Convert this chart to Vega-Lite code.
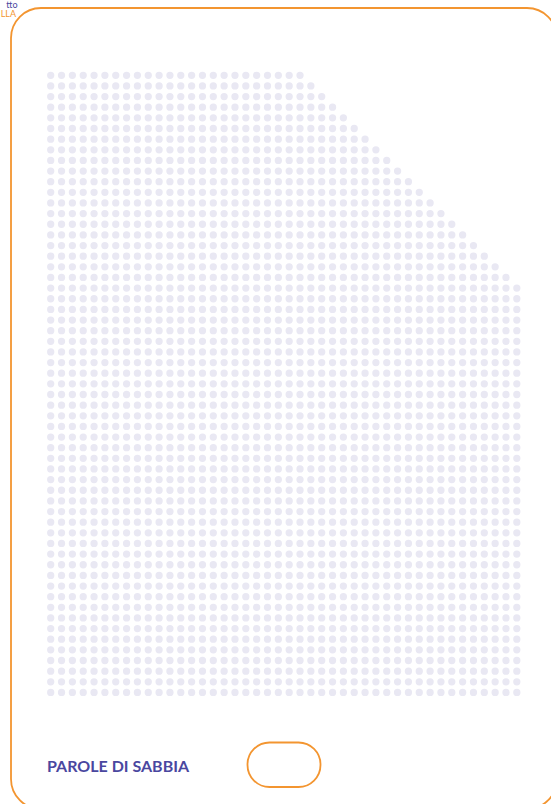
{
"$schema": "https://vega.github.io/schema/vega-lite/v6.json",
"width": 551, "height": 804, "autosize": "none", "padding": 0, "background": "white",
"config": {"view": {"stroke": null}},
"datasets": {
"card": [{"x1": -3.662, "x2": 46.706, "y1": -6.325, "y2": 68.957}],
"pill": [{"x1": 18.155, "x2": 24.889, "y1": 62.707, "y2": 66.889}],
"title": [{"x": -0.341, "y": 65.45, "label": "PAROLE DI SABBIA"}],
"corner1": [{"x": -3.063, "y": -6.32, "label": "tto"}],
"corner2": [{"x": -3.201, "y": -5.5, "label": "LLA"}],
"dots": [
{"c":0,"r":0},{"c":1,"r":0},{"c":2,"r":0},{"c":3,"r":0},{"c":4,"r":0},{"c":5,"r":0},{"c":6,"r":0},{"c":7,"r":0},{"c":8,"r":0},{"c":9,"r":0},{"c":10,"r":0},{"c":11,"r":0},{"c":12,"r":0},{"c":13,"r":0},{"c":14,"r":0},{"c":15,"r":0},{"c":16,"r":0},{"c":17,"r":0},{"c":18,"r":0},{"c":19,"r":0},{"c":20,"r":0},{"c":21,"r":0},{"c":22,"r":0},{"c":23,"r":0},
{"c":0,"r":1},{"c":1,"r":1},{"c":2,"r":1},{"c":3,"r":1},{"c":4,"r":1},{"c":5,"r":1},{"c":6,"r":1},{"c":7,"r":1},{"c":8,"r":1},{"c":9,"r":1},{"c":10,"r":1},{"c":11,"r":1},{"c":12,"r":1},{"c":13,"r":1},{"c":14,"r":1},{"c":15,"r":1},{"c":16,"r":1},{"c":17,"r":1},{"c":18,"r":1},{"c":19,"r":1},{"c":20,"r":1},{"c":21,"r":1},{"c":22,"r":1},{"c":23,"r":1},{"c":24,"r":1},
{"c":0,"r":2},{"c":1,"r":2},{"c":2,"r":2},{"c":3,"r":2},{"c":4,"r":2},{"c":5,"r":2},{"c":6,"r":2},{"c":7,"r":2},{"c":8,"r":2},{"c":9,"r":2},{"c":10,"r":2},{"c":11,"r":2},{"c":12,"r":2},{"c":13,"r":2},{"c":14,"r":2},{"c":15,"r":2},{"c":16,"r":2},{"c":17,"r":2},{"c":18,"r":2},{"c":19,"r":2},{"c":20,"r":2},{"c":21,"r":2},{"c":22,"r":2},{"c":23,"r":2},{"c":24,"r":2},{"c":25,"r":2},
{"c":0,"r":3},{"c":1,"r":3},{"c":2,"r":3},{"c":3,"r":3},{"c":4,"r":3},{"c":5,"r":3},{"c":6,"r":3},{"c":7,"r":3},{"c":8,"r":3},{"c":9,"r":3},{"c":10,"r":3},{"c":11,"r":3},{"c":12,"r":3},{"c":13,"r":3},{"c":14,"r":3},{"c":15,"r":3},{"c":16,"r":3},{"c":17,"r":3},{"c":18,"r":3},{"c":19,"r":3},{"c":20,"r":3},{"c":21,"r":3},{"c":22,"r":3},{"c":23,"r":3},{"c":24,"r":3},{"c":25,"r":3},{"c":26,"r":3},
{"c":0,"r":4},{"c":1,"r":4},{"c":2,"r":4},{"c":3,"r":4},{"c":4,"r":4},{"c":5,"r":4},{"c":6,"r":4},{"c":7,"r":4},{"c":8,"r":4},{"c":9,"r":4},{"c":10,"r":4},{"c":11,"r":4},{"c":12,"r":4},{"c":13,"r":4},{"c":14,"r":4},{"c":15,"r":4},{"c":16,"r":4},{"c":17,"r":4},{"c":18,"r":4},{"c":19,"r":4},{"c":20,"r":4},{"c":21,"r":4},{"c":22,"r":4},{"c":23,"r":4},{"c":24,"r":4},{"c":25,"r":4},{"c":26,"r":4},{"c":27,"r":4},
{"c":0,"r":5},{"c":1,"r":5},{"c":2,"r":5},{"c":3,"r":5},{"c":4,"r":5},{"c":5,"r":5},{"c":6,"r":5},{"c":7,"r":5},{"c":8,"r":5},{"c":9,"r":5},{"c":10,"r":5},{"c":11,"r":5},{"c":12,"r":5},{"c":13,"r":5},{"c":14,"r":5},{"c":15,"r":5},{"c":16,"r":5},{"c":17,"r":5},{"c":18,"r":5},{"c":19,"r":5},{"c":20,"r":5},{"c":21,"r":5},{"c":22,"r":5},{"c":23,"r":5},{"c":24,"r":5},{"c":25,"r":5},{"c":26,"r":5},{"c":27,"r":5},{"c":28,"r":5},
{"c":0,"r":6},{"c":1,"r":6},{"c":2,"r":6},{"c":3,"r":6},{"c":4,"r":6},{"c":5,"r":6},{"c":6,"r":6},{"c":7,"r":6},{"c":8,"r":6},{"c":9,"r":6},{"c":10,"r":6},{"c":11,"r":6},{"c":12,"r":6},{"c":13,"r":6},{"c":14,"r":6},{"c":15,"r":6},{"c":16,"r":6},{"c":17,"r":6},{"c":18,"r":6},{"c":19,"r":6},{"c":20,"r":6},{"c":21,"r":6},{"c":22,"r":6},{"c":23,"r":6},{"c":24,"r":6},{"c":25,"r":6},{"c":26,"r":6},{"c":27,"r":6},{"c":28,"r":6},{"c":29,"r":6},
{"c":0,"r":7},{"c":1,"r":7},{"c":2,"r":7},{"c":3,"r":7},{"c":4,"r":7},{"c":5,"r":7},{"c":6,"r":7},{"c":7,"r":7},{"c":8,"r":7},{"c":9,"r":7},{"c":10,"r":7},{"c":11,"r":7},{"c":12,"r":7},{"c":13,"r":7},{"c":14,"r":7},{"c":15,"r":7},{"c":16,"r":7},{"c":17,"r":7},{"c":18,"r":7},{"c":19,"r":7},{"c":20,"r":7},{"c":21,"r":7},{"c":22,"r":7},{"c":23,"r":7},{"c":24,"r":7},{"c":25,"r":7},{"c":26,"r":7},{"c":27,"r":7},{"c":28,"r":7},{"c":29,"r":7},{"c":30,"r":7},
{"c":0,"r":8},{"c":1,"r":8},{"c":2,"r":8},{"c":3,"r":8},{"c":4,"r":8},{"c":5,"r":8},{"c":6,"r":8},{"c":7,"r":8},{"c":8,"r":8},{"c":9,"r":8},{"c":10,"r":8},{"c":11,"r":8},{"c":12,"r":8},{"c":13,"r":8},{"c":14,"r":8},{"c":15,"r":8},{"c":16,"r":8},{"c":17,"r":8},{"c":18,"r":8},{"c":19,"r":8},{"c":20,"r":8},{"c":21,"r":8},{"c":22,"r":8},{"c":23,"r":8},{"c":24,"r":8},{"c":25,"r":8},{"c":26,"r":8},{"c":27,"r":8},{"c":28,"r":8},{"c":29,"r":8},{"c":30,"r":8},{"c":31,"r":8},
{"c":0,"r":9},{"c":1,"r":9},{"c":2,"r":9},{"c":3,"r":9},{"c":4,"r":9},{"c":5,"r":9},{"c":6,"r":9},{"c":7,"r":9},{"c":8,"r":9},{"c":9,"r":9},{"c":10,"r":9},{"c":11,"r":9},{"c":12,"r":9},{"c":13,"r":9},{"c":14,"r":9},{"c":15,"r":9},{"c":16,"r":9},{"c":17,"r":9},{"c":18,"r":9},{"c":19,"r":9},{"c":20,"r":9},{"c":21,"r":9},{"c":22,"r":9},{"c":23,"r":9},{"c":24,"r":9},{"c":25,"r":9},{"c":26,"r":9},{"c":27,"r":9},{"c":28,"r":9},{"c":29,"r":9},{"c":30,"r":9},{"c":31,"r":9},{"c":32,"r":9},
{"c":0,"r":10},{"c":1,"r":10},{"c":2,"r":10},{"c":3,"r":10},{"c":4,"r":10},{"c":5,"r":10},{"c":6,"r":10},{"c":7,"r":10},{"c":8,"r":10},{"c":9,"r":10},{"c":10,"r":10},{"c":11,"r":10},{"c":12,"r":10},{"c":13,"r":10},{"c":14,"r":10},{"c":15,"r":10},{"c":16,"r":10},{"c":17,"r":10},{"c":18,"r":10},{"c":19,"r":10},{"c":20,"r":10},{"c":21,"r":10},{"c":22,"r":10},{"c":23,"r":10},{"c":24,"r":10},{"c":25,"r":10},{"c":26,"r":10},{"c":27,"r":10},{"c":28,"r":10},{"c":29,"r":10},{"c":30,"r":10},{"c":31,"r":10},{"c":32,"r":10},{"c":33,"r":10},
{"c":0,"r":11},{"c":1,"r":11},{"c":2,"r":11},{"c":3,"r":11},{"c":4,"r":11},{"c":5,"r":11},{"c":6,"r":11},{"c":7,"r":11},{"c":8,"r":11},{"c":9,"r":11},{"c":10,"r":11},{"c":11,"r":11},{"c":12,"r":11},{"c":13,"r":11},{"c":14,"r":11},{"c":15,"r":11},{"c":16,"r":11},{"c":17,"r":11},{"c":18,"r":11},{"c":19,"r":11},{"c":20,"r":11},{"c":21,"r":11},{"c":22,"r":11},{"c":23,"r":11},{"c":24,"r":11},{"c":25,"r":11},{"c":26,"r":11},{"c":27,"r":11},{"c":28,"r":11},{"c":29,"r":11},{"c":30,"r":11},{"c":31,"r":11},{"c":32,"r":11},{"c":33,"r":11},{"c":34,"r":11},
{"c":0,"r":12},{"c":1,"r":12},{"c":2,"r":12},{"c":3,"r":12},{"c":4,"r":12},{"c":5,"r":12},{"c":6,"r":12},{"c":7,"r":12},{"c":8,"r":12},{"c":9,"r":12},{"c":10,"r":12},{"c":11,"r":12},{"c":12,"r":12},{"c":13,"r":12},{"c":14,"r":12},{"c":15,"r":12},{"c":16,"r":12},{"c":17,"r":12},{"c":18,"r":12},{"c":19,"r":12},{"c":20,"r":12},{"c":21,"r":12},{"c":22,"r":12},{"c":23,"r":12},{"c":24,"r":12},{"c":25,"r":12},{"c":26,"r":12},{"c":27,"r":12},{"c":28,"r":12},{"c":29,"r":12},{"c":30,"r":12},{"c":31,"r":12},{"c":32,"r":12},{"c":33,"r":12},{"c":34,"r":12},{"c":35,"r":12},
{"c":0,"r":13},{"c":1,"r":13},{"c":2,"r":13},{"c":3,"r":13},{"c":4,"r":13},{"c":5,"r":13},{"c":6,"r":13},{"c":7,"r":13},{"c":8,"r":13},{"c":9,"r":13},{"c":10,"r":13},{"c":11,"r":13},{"c":12,"r":13},{"c":13,"r":13},{"c":14,"r":13},{"c":15,"r":13},{"c":16,"r":13},{"c":17,"r":13},{"c":18,"r":13},{"c":19,"r":13},{"c":20,"r":13},{"c":21,"r":13},{"c":22,"r":13},{"c":23,"r":13},{"c":24,"r":13},{"c":25,"r":13},{"c":26,"r":13},{"c":27,"r":13},{"c":28,"r":13},{"c":29,"r":13},{"c":30,"r":13},{"c":31,"r":13},{"c":32,"r":13},{"c":33,"r":13},{"c":34,"r":13},{"c":35,"r":13},{"c":36,"r":13},
{"c":0,"r":14},{"c":1,"r":14},{"c":2,"r":14},{"c":3,"r":14},{"c":4,"r":14},{"c":5,"r":14},{"c":6,"r":14},{"c":7,"r":14},{"c":8,"r":14},{"c":9,"r":14},{"c":10,"r":14},{"c":11,"r":14},{"c":12,"r":14},{"c":13,"r":14},{"c":14,"r":14},{"c":15,"r":14},{"c":16,"r":14},{"c":17,"r":14},{"c":18,"r":14},{"c":19,"r":14},{"c":20,"r":14},{"c":21,"r":14},{"c":22,"r":14},{"c":23,"r":14},{"c":24,"r":14},{"c":25,"r":14},{"c":26,"r":14},{"c":27,"r":14},{"c":28,"r":14},{"c":29,"r":14},{"c":30,"r":14},{"c":31,"r":14},{"c":32,"r":14},{"c":33,"r":14},{"c":34,"r":14},{"c":35,"r":14},{"c":36,"r":14},{"c":37,"r":14},
{"c":0,"r":15},{"c":1,"r":15},{"c":2,"r":15},{"c":3,"r":15},{"c":4,"r":15},{"c":5,"r":15},{"c":6,"r":15},{"c":7,"r":15},{"c":8,"r":15},{"c":9,"r":15},{"c":10,"r":15},{"c":11,"r":15},{"c":12,"r":15},{"c":13,"r":15},{"c":14,"r":15},{"c":15,"r":15},{"c":16,"r":15},{"c":17,"r":15},{"c":18,"r":15},{"c":19,"r":15},{"c":20,"r":15},{"c":21,"r":15},{"c":22,"r":15},{"c":23,"r":15},{"c":24,"r":15},{"c":25,"r":15},{"c":26,"r":15},{"c":27,"r":15},{"c":28,"r":15},{"c":29,"r":15},{"c":30,"r":15},{"c":31,"r":15},{"c":32,"r":15},{"c":33,"r":15},{"c":34,"r":15},{"c":35,"r":15},{"c":36,"r":15},{"c":37,"r":15},{"c":38,"r":15},
{"c":0,"r":16},{"c":1,"r":16},{"c":2,"r":16},{"c":3,"r":16},{"c":4,"r":16},{"c":5,"r":16},{"c":6,"r":16},{"c":7,"r":16},{"c":8,"r":16},{"c":9,"r":16},{"c":10,"r":16},{"c":11,"r":16},{"c":12,"r":16},{"c":13,"r":16},{"c":14,"r":16},{"c":15,"r":16},{"c":16,"r":16},{"c":17,"r":16},{"c":18,"r":16},{"c":19,"r":16},{"c":20,"r":16},{"c":21,"r":16},{"c":22,"r":16},{"c":23,"r":16},{"c":24,"r":16},{"c":25,"r":16},{"c":26,"r":16},{"c":27,"r":16},{"c":28,"r":16},{"c":29,"r":16},{"c":30,"r":16},{"c":31,"r":16},{"c":32,"r":16},{"c":33,"r":16},{"c":34,"r":16},{"c":35,"r":16},{"c":36,"r":16},{"c":37,"r":16},{"c":38,"r":16},{"c":39,"r":16},
{"c":0,"r":17},{"c":1,"r":17},{"c":2,"r":17},{"c":3,"r":17},{"c":4,"r":17},{"c":5,"r":17},{"c":6,"r":17},{"c":7,"r":17},{"c":8,"r":17},{"c":9,"r":17},{"c":10,"r":17},{"c":11,"r":17},{"c":12,"r":17},{"c":13,"r":17},{"c":14,"r":17},{"c":15,"r":17},{"c":16,"r":17},{"c":17,"r":17},{"c":18,"r":17},{"c":19,"r":17},{"c":20,"r":17},{"c":21,"r":17},{"c":22,"r":17},{"c":23,"r":17},{"c":24,"r":17},{"c":25,"r":17},{"c":26,"r":17},{"c":27,"r":17},{"c":28,"r":17},{"c":29,"r":17},{"c":30,"r":17},{"c":31,"r":17},{"c":32,"r":17},{"c":33,"r":17},{"c":34,"r":17},{"c":35,"r":17},{"c":36,"r":17},{"c":37,"r":17},{"c":38,"r":17},{"c":39,"r":17},{"c":40,"r":17},
{"c":0,"r":18},{"c":1,"r":18},{"c":2,"r":18},{"c":3,"r":18},{"c":4,"r":18},{"c":5,"r":18},{"c":6,"r":18},{"c":7,"r":18},{"c":8,"r":18},{"c":9,"r":18},{"c":10,"r":18},{"c":11,"r":18},{"c":12,"r":18},{"c":13,"r":18},{"c":14,"r":18},{"c":15,"r":18},{"c":16,"r":18},{"c":17,"r":18},{"c":18,"r":18},{"c":19,"r":18},{"c":20,"r":18},{"c":21,"r":18},{"c":22,"r":18},{"c":23,"r":18},{"c":24,"r":18},{"c":25,"r":18},{"c":26,"r":18},{"c":27,"r":18},{"c":28,"r":18},{"c":29,"r":18},{"c":30,"r":18},{"c":31,"r":18},{"c":32,"r":18},{"c":33,"r":18},{"c":34,"r":18},{"c":35,"r":18},{"c":36,"r":18},{"c":37,"r":18},{"c":38,"r":18},{"c":39,"r":18},{"c":40,"r":18},{"c":41,"r":18},
{"c":0,"r":19},{"c":1,"r":19},{"c":2,"r":19},{"c":3,"r":19},{"c":4,"r":19},{"c":5,"r":19},{"c":6,"r":19},{"c":7,"r":19},{"c":8,"r":19},{"c":9,"r":19},{"c":10,"r":19},{"c":11,"r":19},{"c":12,"r":19},{"c":13,"r":19},{"c":14,"r":19},{"c":15,"r":19},{"c":16,"r":19},{"c":17,"r":19},{"c":18,"r":19},{"c":19,"r":19},{"c":20,"r":19},{"c":21,"r":19},{"c":22,"r":19},{"c":23,"r":19},{"c":24,"r":19},{"c":25,"r":19},{"c":26,"r":19},{"c":27,"r":19},{"c":28,"r":19},{"c":29,"r":19},{"c":30,"r":19},{"c":31,"r":19},{"c":32,"r":19},{"c":33,"r":19},{"c":34,"r":19},{"c":35,"r":19},{"c":36,"r":19},{"c":37,"r":19},{"c":38,"r":19},{"c":39,"r":19},{"c":40,"r":19},{"c":41,"r":19},{"c":42,"r":19},
{"c":0,"r":20},{"c":1,"r":20},{"c":2,"r":20},{"c":3,"r":20},{"c":4,"r":20},{"c":5,"r":20},{"c":6,"r":20},{"c":7,"r":20},{"c":8,"r":20},{"c":9,"r":20},{"c":10,"r":20},{"c":11,"r":20},{"c":12,"r":20},{"c":13,"r":20},{"c":14,"r":20},{"c":15,"r":20},{"c":16,"r":20},{"c":17,"r":20},{"c":18,"r":20},{"c":19,"r":20},{"c":20,"r":20},{"c":21,"r":20},{"c":22,"r":20},{"c":23,"r":20},{"c":24,"r":20},{"c":25,"r":20},{"c":26,"r":20},{"c":27,"r":20},{"c":28,"r":20},{"c":29,"r":20},{"c":30,"r":20},{"c":31,"r":20},{"c":32,"r":20},{"c":33,"r":20},{"c":34,"r":20},{"c":35,"r":20},{"c":36,"r":20},{"c":37,"r":20},{"c":38,"r":20},{"c":39,"r":20},{"c":40,"r":20},{"c":41,"r":20},{"c":42,"r":20},{"c":43,"r":20},
{"c":0,"r":21},{"c":1,"r":21},{"c":2,"r":21},{"c":3,"r":21},{"c":4,"r":21},{"c":5,"r":21},{"c":6,"r":21},{"c":7,"r":21},{"c":8,"r":21},{"c":9,"r":21},{"c":10,"r":21},{"c":11,"r":21},{"c":12,"r":21},{"c":13,"r":21},{"c":14,"r":21},{"c":15,"r":21},{"c":16,"r":21},{"c":17,"r":21},{"c":18,"r":21},{"c":19,"r":21},{"c":20,"r":21},{"c":21,"r":21},{"c":22,"r":21},{"c":23,"r":21},{"c":24,"r":21},{"c":25,"r":21},{"c":26,"r":21},{"c":27,"r":21},{"c":28,"r":21},{"c":29,"r":21},{"c":30,"r":21},{"c":31,"r":21},{"c":32,"r":21},{"c":33,"r":21},{"c":34,"r":21},{"c":35,"r":21},{"c":36,"r":21},{"c":37,"r":21},{"c":38,"r":21},{"c":39,"r":21},{"c":40,"r":21},{"c":41,"r":21},{"c":42,"r":21},{"c":43,"r":21},
{"c":0,"r":22},{"c":1,"r":22},{"c":2,"r":22},{"c":3,"r":22},{"c":4,"r":22},{"c":5,"r":22},{"c":6,"r":22},{"c":7,"r":22},{"c":8,"r":22},{"c":9,"r":22},{"c":10,"r":22},{"c":11,"r":22},{"c":12,"r":22},{"c":13,"r":22},{"c":14,"r":22},{"c":15,"r":22},{"c":16,"r":22},{"c":17,"r":22},{"c":18,"r":22},{"c":19,"r":22},{"c":20,"r":22},{"c":21,"r":22},{"c":22,"r":22},{"c":23,"r":22},{"c":24,"r":22},{"c":25,"r":22},{"c":26,"r":22},{"c":27,"r":22},{"c":28,"r":22},{"c":29,"r":22},{"c":30,"r":22},{"c":31,"r":22},{"c":32,"r":22},{"c":33,"r":22},{"c":34,"r":22},{"c":35,"r":22},{"c":36,"r":22},{"c":37,"r":22},{"c":38,"r":22},{"c":39,"r":22},{"c":40,"r":22},{"c":41,"r":22},{"c":42,"r":22},{"c":43,"r":22},
{"c":0,"r":23},{"c":1,"r":23},{"c":2,"r":23},{"c":3,"r":23},{"c":4,"r":23},{"c":5,"r":23},{"c":6,"r":23},{"c":7,"r":23},{"c":8,"r":23},{"c":9,"r":23},{"c":10,"r":23},{"c":11,"r":23},{"c":12,"r":23},{"c":13,"r":23},{"c":14,"r":23},{"c":15,"r":23},{"c":16,"r":23},{"c":17,"r":23},{"c":18,"r":23},{"c":19,"r":23},{"c":20,"r":23},{"c":21,"r":23},{"c":22,"r":23},{"c":23,"r":23},{"c":24,"r":23},{"c":25,"r":23},{"c":26,"r":23},{"c":27,"r":23},{"c":28,"r":23},{"c":29,"r":23},{"c":30,"r":23},{"c":31,"r":23},{"c":32,"r":23},{"c":33,"r":23},{"c":34,"r":23},{"c":35,"r":23},{"c":36,"r":23},{"c":37,"r":23},{"c":38,"r":23},{"c":39,"r":23},{"c":40,"r":23},{"c":41,"r":23},{"c":42,"r":23},{"c":43,"r":23},
{"c":0,"r":24},{"c":1,"r":24},{"c":2,"r":24},{"c":3,"r":24},{"c":4,"r":24},{"c":5,"r":24},{"c":6,"r":24},{"c":7,"r":24},{"c":8,"r":24},{"c":9,"r":24},{"c":10,"r":24},{"c":11,"r":24},{"c":12,"r":24},{"c":13,"r":24},{"c":14,"r":24},{"c":15,"r":24},{"c":16,"r":24},{"c":17,"r":24},{"c":18,"r":24},{"c":19,"r":24},{"c":20,"r":24},{"c":21,"r":24},{"c":22,"r":24},{"c":23,"r":24},{"c":24,"r":24},{"c":25,"r":24},{"c":26,"r":24},{"c":27,"r":24},{"c":28,"r":24},{"c":29,"r":24},{"c":30,"r":24},{"c":31,"r":24},{"c":32,"r":24},{"c":33,"r":24},{"c":34,"r":24},{"c":35,"r":24},{"c":36,"r":24},{"c":37,"r":24},{"c":38,"r":24},{"c":39,"r":24},{"c":40,"r":24},{"c":41,"r":24},{"c":42,"r":24},{"c":43,"r":24},
{"c":0,"r":25},{"c":1,"r":25},{"c":2,"r":25},{"c":3,"r":25},{"c":4,"r":25},{"c":5,"r":25},{"c":6,"r":25},{"c":7,"r":25},{"c":8,"r":25},{"c":9,"r":25},{"c":10,"r":25},{"c":11,"r":25},{"c":12,"r":25},{"c":13,"r":25},{"c":14,"r":25},{"c":15,"r":25},{"c":16,"r":25},{"c":17,"r":25},{"c":18,"r":25},{"c":19,"r":25},{"c":20,"r":25},{"c":21,"r":25},{"c":22,"r":25},{"c":23,"r":25},{"c":24,"r":25},{"c":25,"r":25},{"c":26,"r":25},{"c":27,"r":25},{"c":28,"r":25},{"c":29,"r":25},{"c":30,"r":25},{"c":31,"r":25},{"c":32,"r":25},{"c":33,"r":25},{"c":34,"r":25},{"c":35,"r":25},{"c":36,"r":25},{"c":37,"r":25},{"c":38,"r":25},{"c":39,"r":25},{"c":40,"r":25},{"c":41,"r":25},{"c":42,"r":25},{"c":43,"r":25},
{"c":0,"r":26},{"c":1,"r":26},{"c":2,"r":26},{"c":3,"r":26},{"c":4,"r":26},{"c":5,"r":26},{"c":6,"r":26},{"c":7,"r":26},{"c":8,"r":26},{"c":9,"r":26},{"c":10,"r":26},{"c":11,"r":26},{"c":12,"r":26},{"c":13,"r":26},{"c":14,"r":26},{"c":15,"r":26},{"c":16,"r":26},{"c":17,"r":26},{"c":18,"r":26},{"c":19,"r":26},{"c":20,"r":26},{"c":21,"r":26},{"c":22,"r":26},{"c":23,"r":26},{"c":24,"r":26},{"c":25,"r":26},{"c":26,"r":26},{"c":27,"r":26},{"c":28,"r":26},{"c":29,"r":26},{"c":30,"r":26},{"c":31,"r":26},{"c":32,"r":26},{"c":33,"r":26},{"c":34,"r":26},{"c":35,"r":26},{"c":36,"r":26},{"c":37,"r":26},{"c":38,"r":26},{"c":39,"r":26},{"c":40,"r":26},{"c":41,"r":26},{"c":42,"r":26},{"c":43,"r":26},
{"c":0,"r":27},{"c":1,"r":27},{"c":2,"r":27},{"c":3,"r":27},{"c":4,"r":27},{"c":5,"r":27},{"c":6,"r":27},{"c":7,"r":27},{"c":8,"r":27},{"c":9,"r":27},{"c":10,"r":27},{"c":11,"r":27},{"c":12,"r":27},{"c":13,"r":27},{"c":14,"r":27},{"c":15,"r":27},{"c":16,"r":27},{"c":17,"r":27},{"c":18,"r":27},{"c":19,"r":27},{"c":20,"r":27},{"c":21,"r":27},{"c":22,"r":27},{"c":23,"r":27},{"c":24,"r":27},{"c":25,"r":27},{"c":26,"r":27},{"c":27,"r":27},{"c":28,"r":27},{"c":29,"r":27},{"c":30,"r":27},{"c":31,"r":27},{"c":32,"r":27},{"c":33,"r":27},{"c":34,"r":27},{"c":35,"r":27},{"c":36,"r":27},{"c":37,"r":27},{"c":38,"r":27},{"c":39,"r":27},{"c":40,"r":27},{"c":41,"r":27},{"c":42,"r":27},{"c":43,"r":27},
{"c":0,"r":28},{"c":1,"r":28},{"c":2,"r":28},{"c":3,"r":28},{"c":4,"r":28},{"c":5,"r":28},{"c":6,"r":28},{"c":7,"r":28},{"c":8,"r":28},{"c":9,"r":28},{"c":10,"r":28},{"c":11,"r":28},{"c":12,"r":28},{"c":13,"r":28},{"c":14,"r":28},{"c":15,"r":28},{"c":16,"r":28},{"c":17,"r":28},{"c":18,"r":28},{"c":19,"r":28},{"c":20,"r":28},{"c":21,"r":28},{"c":22,"r":28},{"c":23,"r":28},{"c":24,"r":28},{"c":25,"r":28},{"c":26,"r":28},{"c":27,"r":28},{"c":28,"r":28},{"c":29,"r":28},{"c":30,"r":28},{"c":31,"r":28},{"c":32,"r":28},{"c":33,"r":28},{"c":34,"r":28},{"c":35,"r":28},{"c":36,"r":28},{"c":37,"r":28},{"c":38,"r":28},{"c":39,"r":28},{"c":40,"r":28},{"c":41,"r":28},{"c":42,"r":28},{"c":43,"r":28},
{"c":0,"r":29},{"c":1,"r":29},{"c":2,"r":29},{"c":3,"r":29},{"c":4,"r":29},{"c":5,"r":29},{"c":6,"r":29},{"c":7,"r":29},{"c":8,"r":29},{"c":9,"r":29},{"c":10,"r":29},{"c":11,"r":29},{"c":12,"r":29},{"c":13,"r":29},{"c":14,"r":29},{"c":15,"r":29},{"c":16,"r":29},{"c":17,"r":29},{"c":18,"r":29},{"c":19,"r":29},{"c":20,"r":29},{"c":21,"r":29},{"c":22,"r":29},{"c":23,"r":29},{"c":24,"r":29},{"c":25,"r":29},{"c":26,"r":29},{"c":27,"r":29},{"c":28,"r":29},{"c":29,"r":29},{"c":30,"r":29},{"c":31,"r":29},{"c":32,"r":29},{"c":33,"r":29},{"c":34,"r":29},{"c":35,"r":29},{"c":36,"r":29},{"c":37,"r":29},{"c":38,"r":29},{"c":39,"r":29},{"c":40,"r":29},{"c":41,"r":29},{"c":42,"r":29},{"c":43,"r":29},
{"c":0,"r":30},{"c":1,"r":30},{"c":2,"r":30},{"c":3,"r":30},{"c":4,"r":30},{"c":5,"r":30},{"c":6,"r":30},{"c":7,"r":30},{"c":8,"r":30},{"c":9,"r":30},{"c":10,"r":30},{"c":11,"r":30},{"c":12,"r":30},{"c":13,"r":30},{"c":14,"r":30},{"c":15,"r":30},{"c":16,"r":30},{"c":17,"r":30},{"c":18,"r":30},{"c":19,"r":30},{"c":20,"r":30},{"c":21,"r":30},{"c":22,"r":30},{"c":23,"r":30},{"c":24,"r":30},{"c":25,"r":30},{"c":26,"r":30},{"c":27,"r":30},{"c":28,"r":30},{"c":29,"r":30},{"c":30,"r":30},{"c":31,"r":30},{"c":32,"r":30},{"c":33,"r":30},{"c":34,"r":30},{"c":35,"r":30},{"c":36,"r":30},{"c":37,"r":30},{"c":38,"r":30},{"c":39,"r":30},{"c":40,"r":30},{"c":41,"r":30},{"c":42,"r":30},{"c":43,"r":30},
{"c":0,"r":31},{"c":1,"r":31},{"c":2,"r":31},{"c":3,"r":31},{"c":4,"r":31},{"c":5,"r":31},{"c":6,"r":31},{"c":7,"r":31},{"c":8,"r":31},{"c":9,"r":31},{"c":10,"r":31},{"c":11,"r":31},{"c":12,"r":31},{"c":13,"r":31},{"c":14,"r":31},{"c":15,"r":31},{"c":16,"r":31},{"c":17,"r":31},{"c":18,"r":31},{"c":19,"r":31},{"c":20,"r":31},{"c":21,"r":31},{"c":22,"r":31},{"c":23,"r":31},{"c":24,"r":31},{"c":25,"r":31},{"c":26,"r":31},{"c":27,"r":31},{"c":28,"r":31},{"c":29,"r":31},{"c":30,"r":31},{"c":31,"r":31},{"c":32,"r":31},{"c":33,"r":31},{"c":34,"r":31},{"c":35,"r":31},{"c":36,"r":31},{"c":37,"r":31},{"c":38,"r":31},{"c":39,"r":31},{"c":40,"r":31},{"c":41,"r":31},{"c":42,"r":31},{"c":43,"r":31},
{"c":0,"r":32},{"c":1,"r":32},{"c":2,"r":32},{"c":3,"r":32},{"c":4,"r":32},{"c":5,"r":32},{"c":6,"r":32},{"c":7,"r":32},{"c":8,"r":32},{"c":9,"r":32},{"c":10,"r":32},{"c":11,"r":32},{"c":12,"r":32},{"c":13,"r":32},{"c":14,"r":32},{"c":15,"r":32},{"c":16,"r":32},{"c":17,"r":32},{"c":18,"r":32},{"c":19,"r":32},{"c":20,"r":32},{"c":21,"r":32},{"c":22,"r":32},{"c":23,"r":32},{"c":24,"r":32},{"c":25,"r":32},{"c":26,"r":32},{"c":27,"r":32},{"c":28,"r":32},{"c":29,"r":32},{"c":30,"r":32},{"c":31,"r":32},{"c":32,"r":32},{"c":33,"r":32},{"c":34,"r":32},{"c":35,"r":32},{"c":36,"r":32},{"c":37,"r":32},{"c":38,"r":32},{"c":39,"r":32},{"c":40,"r":32},{"c":41,"r":32},{"c":42,"r":32},{"c":43,"r":32},
{"c":0,"r":33},{"c":1,"r":33},{"c":2,"r":33},{"c":3,"r":33},{"c":4,"r":33},{"c":5,"r":33},{"c":6,"r":33},{"c":7,"r":33},{"c":8,"r":33},{"c":9,"r":33},{"c":10,"r":33},{"c":11,"r":33},{"c":12,"r":33},{"c":13,"r":33},{"c":14,"r":33},{"c":15,"r":33},{"c":16,"r":33},{"c":17,"r":33},{"c":18,"r":33},{"c":19,"r":33},{"c":20,"r":33},{"c":21,"r":33},{"c":22,"r":33},{"c":23,"r":33},{"c":24,"r":33},{"c":25,"r":33},{"c":26,"r":33},{"c":27,"r":33},{"c":28,"r":33},{"c":29,"r":33},{"c":30,"r":33},{"c":31,"r":33},{"c":32,"r":33},{"c":33,"r":33},{"c":34,"r":33},{"c":35,"r":33},{"c":36,"r":33},{"c":37,"r":33},{"c":38,"r":33},{"c":39,"r":33},{"c":40,"r":33},{"c":41,"r":33},{"c":42,"r":33},{"c":43,"r":33},
{"c":0,"r":34},{"c":1,"r":34},{"c":2,"r":34},{"c":3,"r":34},{"c":4,"r":34},{"c":5,"r":34},{"c":6,"r":34},{"c":7,"r":34},{"c":8,"r":34},{"c":9,"r":34},{"c":10,"r":34},{"c":11,"r":34},{"c":12,"r":34},{"c":13,"r":34},{"c":14,"r":34},{"c":15,"r":34},{"c":16,"r":34},{"c":17,"r":34},{"c":18,"r":34},{"c":19,"r":34},{"c":20,"r":34},{"c":21,"r":34},{"c":22,"r":34},{"c":23,"r":34},{"c":24,"r":34},{"c":25,"r":34},{"c":26,"r":34},{"c":27,"r":34},{"c":28,"r":34},{"c":29,"r":34},{"c":30,"r":34},{"c":31,"r":34},{"c":32,"r":34},{"c":33,"r":34},{"c":34,"r":34},{"c":35,"r":34},{"c":36,"r":34},{"c":37,"r":34},{"c":38,"r":34},{"c":39,"r":34},{"c":40,"r":34},{"c":41,"r":34},{"c":42,"r":34},{"c":43,"r":34},
{"c":0,"r":35},{"c":1,"r":35},{"c":2,"r":35},{"c":3,"r":35},{"c":4,"r":35},{"c":5,"r":35},{"c":6,"r":35},{"c":7,"r":35},{"c":8,"r":35},{"c":9,"r":35},{"c":10,"r":35},{"c":11,"r":35},{"c":12,"r":35},{"c":13,"r":35},{"c":14,"r":35},{"c":15,"r":35},{"c":16,"r":35},{"c":17,"r":35},{"c":18,"r":35},{"c":19,"r":35},{"c":20,"r":35},{"c":21,"r":35},{"c":22,"r":35},{"c":23,"r":35},{"c":24,"r":35},{"c":25,"r":35},{"c":26,"r":35},{"c":27,"r":35},{"c":28,"r":35},{"c":29,"r":35},{"c":30,"r":35},{"c":31,"r":35},{"c":32,"r":35},{"c":33,"r":35},{"c":34,"r":35},{"c":35,"r":35},{"c":36,"r":35},{"c":37,"r":35},{"c":38,"r":35},{"c":39,"r":35},{"c":40,"r":35},{"c":41,"r":35},{"c":42,"r":35},{"c":43,"r":35},
{"c":0,"r":36},{"c":1,"r":36},{"c":2,"r":36},{"c":3,"r":36},{"c":4,"r":36},{"c":5,"r":36},{"c":6,"r":36},{"c":7,"r":36},{"c":8,"r":36},{"c":9,"r":36},{"c":10,"r":36},{"c":11,"r":36},{"c":12,"r":36},{"c":13,"r":36},{"c":14,"r":36},{"c":15,"r":36},{"c":16,"r":36},{"c":17,"r":36},{"c":18,"r":36},{"c":19,"r":36},{"c":20,"r":36},{"c":21,"r":36},{"c":22,"r":36},{"c":23,"r":36},{"c":24,"r":36},{"c":25,"r":36},{"c":26,"r":36},{"c":27,"r":36},{"c":28,"r":36},{"c":29,"r":36},{"c":30,"r":36},{"c":31,"r":36},{"c":32,"r":36},{"c":33,"r":36},{"c":34,"r":36},{"c":35,"r":36},{"c":36,"r":36},{"c":37,"r":36},{"c":38,"r":36},{"c":39,"r":36},{"c":40,"r":36},{"c":41,"r":36},{"c":42,"r":36},{"c":43,"r":36},
{"c":0,"r":37},{"c":1,"r":37},{"c":2,"r":37},{"c":3,"r":37},{"c":4,"r":37},{"c":5,"r":37},{"c":6,"r":37},{"c":7,"r":37},{"c":8,"r":37},{"c":9,"r":37},{"c":10,"r":37},{"c":11,"r":37},{"c":12,"r":37},{"c":13,"r":37},{"c":14,"r":37},{"c":15,"r":37},{"c":16,"r":37},{"c":17,"r":37},{"c":18,"r":37},{"c":19,"r":37},{"c":20,"r":37},{"c":21,"r":37},{"c":22,"r":37},{"c":23,"r":37},{"c":24,"r":37},{"c":25,"r":37},{"c":26,"r":37},{"c":27,"r":37},{"c":28,"r":37},{"c":29,"r":37},{"c":30,"r":37},{"c":31,"r":37},{"c":32,"r":37},{"c":33,"r":37},{"c":34,"r":37},{"c":35,"r":37},{"c":36,"r":37},{"c":37,"r":37},{"c":38,"r":37},{"c":39,"r":37},{"c":40,"r":37},{"c":41,"r":37},{"c":42,"r":37},{"c":43,"r":37},
{"c":0,"r":38},{"c":1,"r":38},{"c":2,"r":38},{"c":3,"r":38},{"c":4,"r":38},{"c":5,"r":38},{"c":6,"r":38},{"c":7,"r":38},{"c":8,"r":38},{"c":9,"r":38},{"c":10,"r":38},{"c":11,"r":38},{"c":12,"r":38},{"c":13,"r":38},{"c":14,"r":38},{"c":15,"r":38},{"c":16,"r":38},{"c":17,"r":38},{"c":18,"r":38},{"c":19,"r":38},{"c":20,"r":38},{"c":21,"r":38},{"c":22,"r":38},{"c":23,"r":38},{"c":24,"r":38},{"c":25,"r":38},{"c":26,"r":38},{"c":27,"r":38},{"c":28,"r":38},{"c":29,"r":38},{"c":30,"r":38},{"c":31,"r":38},{"c":32,"r":38},{"c":33,"r":38},{"c":34,"r":38},{"c":35,"r":38},{"c":36,"r":38},{"c":37,"r":38},{"c":38,"r":38},{"c":39,"r":38},{"c":40,"r":38},{"c":41,"r":38},{"c":42,"r":38},{"c":43,"r":38},
{"c":0,"r":39},{"c":1,"r":39},{"c":2,"r":39},{"c":3,"r":39},{"c":4,"r":39},{"c":5,"r":39},{"c":6,"r":39},{"c":7,"r":39},{"c":8,"r":39},{"c":9,"r":39},{"c":10,"r":39},{"c":11,"r":39},{"c":12,"r":39},{"c":13,"r":39},{"c":14,"r":39},{"c":15,"r":39},{"c":16,"r":39},{"c":17,"r":39},{"c":18,"r":39},{"c":19,"r":39},{"c":20,"r":39},{"c":21,"r":39},{"c":22,"r":39},{"c":23,"r":39},{"c":24,"r":39},{"c":25,"r":39},{"c":26,"r":39},{"c":27,"r":39},{"c":28,"r":39},{"c":29,"r":39},{"c":30,"r":39},{"c":31,"r":39},{"c":32,"r":39},{"c":33,"r":39},{"c":34,"r":39},{"c":35,"r":39},{"c":36,"r":39},{"c":37,"r":39},{"c":38,"r":39},{"c":39,"r":39},{"c":40,"r":39},{"c":41,"r":39},{"c":42,"r":39},{"c":43,"r":39},
{"c":0,"r":40},{"c":1,"r":40},{"c":2,"r":40},{"c":3,"r":40},{"c":4,"r":40},{"c":5,"r":40},{"c":6,"r":40},{"c":7,"r":40},{"c":8,"r":40},{"c":9,"r":40},{"c":10,"r":40},{"c":11,"r":40},{"c":12,"r":40},{"c":13,"r":40},{"c":14,"r":40},{"c":15,"r":40},{"c":16,"r":40},{"c":17,"r":40},{"c":18,"r":40},{"c":19,"r":40},{"c":20,"r":40},{"c":21,"r":40},{"c":22,"r":40},{"c":23,"r":40},{"c":24,"r":40},{"c":25,"r":40},{"c":26,"r":40},{"c":27,"r":40},{"c":28,"r":40},{"c":29,"r":40},{"c":30,"r":40},{"c":31,"r":40},{"c":32,"r":40},{"c":33,"r":40},{"c":34,"r":40},{"c":35,"r":40},{"c":36,"r":40},{"c":37,"r":40},{"c":38,"r":40},{"c":39,"r":40},{"c":40,"r":40},{"c":41,"r":40},{"c":42,"r":40},{"c":43,"r":40},
{"c":0,"r":41},{"c":1,"r":41},{"c":2,"r":41},{"c":3,"r":41},{"c":4,"r":41},{"c":5,"r":41},{"c":6,"r":41},{"c":7,"r":41},{"c":8,"r":41},{"c":9,"r":41},{"c":10,"r":41},{"c":11,"r":41},{"c":12,"r":41},{"c":13,"r":41},{"c":14,"r":41},{"c":15,"r":41},{"c":16,"r":41},{"c":17,"r":41},{"c":18,"r":41},{"c":19,"r":41},{"c":20,"r":41},{"c":21,"r":41},{"c":22,"r":41},{"c":23,"r":41},{"c":24,"r":41},{"c":25,"r":41},{"c":26,"r":41},{"c":27,"r":41},{"c":28,"r":41},{"c":29,"r":41},{"c":30,"r":41},{"c":31,"r":41},{"c":32,"r":41},{"c":33,"r":41},{"c":34,"r":41},{"c":35,"r":41},{"c":36,"r":41},{"c":37,"r":41},{"c":38,"r":41},{"c":39,"r":41},{"c":40,"r":41},{"c":41,"r":41},{"c":42,"r":41},{"c":43,"r":41},
{"c":0,"r":42},{"c":1,"r":42},{"c":2,"r":42},{"c":3,"r":42},{"c":4,"r":42},{"c":5,"r":42},{"c":6,"r":42},{"c":7,"r":42},{"c":8,"r":42},{"c":9,"r":42},{"c":10,"r":42},{"c":11,"r":42},{"c":12,"r":42},{"c":13,"r":42},{"c":14,"r":42},{"c":15,"r":42},{"c":16,"r":42},{"c":17,"r":42},{"c":18,"r":42},{"c":19,"r":42},{"c":20,"r":42},{"c":21,"r":42},{"c":22,"r":42},{"c":23,"r":42},{"c":24,"r":42},{"c":25,"r":42},{"c":26,"r":42},{"c":27,"r":42},{"c":28,"r":42},{"c":29,"r":42},{"c":30,"r":42},{"c":31,"r":42},{"c":32,"r":42},{"c":33,"r":42},{"c":34,"r":42},{"c":35,"r":42},{"c":36,"r":42},{"c":37,"r":42},{"c":38,"r":42},{"c":39,"r":42},{"c":40,"r":42},{"c":41,"r":42},{"c":42,"r":42},{"c":43,"r":42},
{"c":0,"r":43},{"c":1,"r":43},{"c":2,"r":43},{"c":3,"r":43},{"c":4,"r":43},{"c":5,"r":43},{"c":6,"r":43},{"c":7,"r":43},{"c":8,"r":43},{"c":9,"r":43},{"c":10,"r":43},{"c":11,"r":43},{"c":12,"r":43},{"c":13,"r":43},{"c":14,"r":43},{"c":15,"r":43},{"c":16,"r":43},{"c":17,"r":43},{"c":18,"r":43},{"c":19,"r":43},{"c":20,"r":43},{"c":21,"r":43},{"c":22,"r":43},{"c":23,"r":43},{"c":24,"r":43},{"c":25,"r":43},{"c":26,"r":43},{"c":27,"r":43},{"c":28,"r":43},{"c":29,"r":43},{"c":30,"r":43},{"c":31,"r":43},{"c":32,"r":43},{"c":33,"r":43},{"c":34,"r":43},{"c":35,"r":43},{"c":36,"r":43},{"c":37,"r":43},{"c":38,"r":43},{"c":39,"r":43},{"c":40,"r":43},{"c":41,"r":43},{"c":42,"r":43},{"c":43,"r":43},
{"c":0,"r":44},{"c":1,"r":44},{"c":2,"r":44},{"c":3,"r":44},{"c":4,"r":44},{"c":5,"r":44},{"c":6,"r":44},{"c":7,"r":44},{"c":8,"r":44},{"c":9,"r":44},{"c":10,"r":44},{"c":11,"r":44},{"c":12,"r":44},{"c":13,"r":44},{"c":14,"r":44},{"c":15,"r":44},{"c":16,"r":44},{"c":17,"r":44},{"c":18,"r":44},{"c":19,"r":44},{"c":20,"r":44},{"c":21,"r":44},{"c":22,"r":44},{"c":23,"r":44},{"c":24,"r":44},{"c":25,"r":44},{"c":26,"r":44},{"c":27,"r":44},{"c":28,"r":44},{"c":29,"r":44},{"c":30,"r":44},{"c":31,"r":44},{"c":32,"r":44},{"c":33,"r":44},{"c":34,"r":44},{"c":35,"r":44},{"c":36,"r":44},{"c":37,"r":44},{"c":38,"r":44},{"c":39,"r":44},{"c":40,"r":44},{"c":41,"r":44},{"c":42,"r":44},{"c":43,"r":44},
{"c":0,"r":45},{"c":1,"r":45},{"c":2,"r":45},{"c":3,"r":45},{"c":4,"r":45},{"c":5,"r":45},{"c":6,"r":45},{"c":7,"r":45},{"c":8,"r":45},{"c":9,"r":45},{"c":10,"r":45},{"c":11,"r":45},{"c":12,"r":45},{"c":13,"r":45},{"c":14,"r":45},{"c":15,"r":45},{"c":16,"r":45},{"c":17,"r":45},{"c":18,"r":45},{"c":19,"r":45},{"c":20,"r":45},{"c":21,"r":45},{"c":22,"r":45},{"c":23,"r":45},{"c":24,"r":45},{"c":25,"r":45},{"c":26,"r":45},{"c":27,"r":45},{"c":28,"r":45},{"c":29,"r":45},{"c":30,"r":45},{"c":31,"r":45},{"c":32,"r":45},{"c":33,"r":45},{"c":34,"r":45},{"c":35,"r":45},{"c":36,"r":45},{"c":37,"r":45},{"c":38,"r":45},{"c":39,"r":45},{"c":40,"r":45},{"c":41,"r":45},{"c":42,"r":45},{"c":43,"r":45},
{"c":0,"r":46},{"c":1,"r":46},{"c":2,"r":46},{"c":3,"r":46},{"c":4,"r":46},{"c":5,"r":46},{"c":6,"r":46},{"c":7,"r":46},{"c":8,"r":46},{"c":9,"r":46},{"c":10,"r":46},{"c":11,"r":46},{"c":12,"r":46},{"c":13,"r":46},{"c":14,"r":46},{"c":15,"r":46},{"c":16,"r":46},{"c":17,"r":46},{"c":18,"r":46},{"c":19,"r":46},{"c":20,"r":46},{"c":21,"r":46},{"c":22,"r":46},{"c":23,"r":46},{"c":24,"r":46},{"c":25,"r":46},{"c":26,"r":46},{"c":27,"r":46},{"c":28,"r":46},{"c":29,"r":46},{"c":30,"r":46},{"c":31,"r":46},{"c":32,"r":46},{"c":33,"r":46},{"c":34,"r":46},{"c":35,"r":46},{"c":36,"r":46},{"c":37,"r":46},{"c":38,"r":46},{"c":39,"r":46},{"c":40,"r":46},{"c":41,"r":46},{"c":42,"r":46},{"c":43,"r":46},
{"c":0,"r":47},{"c":1,"r":47},{"c":2,"r":47},{"c":3,"r":47},{"c":4,"r":47},{"c":5,"r":47},{"c":6,"r":47},{"c":7,"r":47},{"c":8,"r":47},{"c":9,"r":47},{"c":10,"r":47},{"c":11,"r":47},{"c":12,"r":47},{"c":13,"r":47},{"c":14,"r":47},{"c":15,"r":47},{"c":16,"r":47},{"c":17,"r":47},{"c":18,"r":47},{"c":19,"r":47},{"c":20,"r":47},{"c":21,"r":47},{"c":22,"r":47},{"c":23,"r":47},{"c":24,"r":47},{"c":25,"r":47},{"c":26,"r":47},{"c":27,"r":47},{"c":28,"r":47},{"c":29,"r":47},{"c":30,"r":47},{"c":31,"r":47},{"c":32,"r":47},{"c":33,"r":47},{"c":34,"r":47},{"c":35,"r":47},{"c":36,"r":47},{"c":37,"r":47},{"c":38,"r":47},{"c":39,"r":47},{"c":40,"r":47},{"c":41,"r":47},{"c":42,"r":47},{"c":43,"r":47},
{"c":0,"r":48},{"c":1,"r":48},{"c":2,"r":48},{"c":3,"r":48},{"c":4,"r":48},{"c":5,"r":48},{"c":6,"r":48},{"c":7,"r":48},{"c":8,"r":48},{"c":9,"r":48},{"c":10,"r":48},{"c":11,"r":48},{"c":12,"r":48},{"c":13,"r":48},{"c":14,"r":48},{"c":15,"r":48},{"c":16,"r":48},{"c":17,"r":48},{"c":18,"r":48},{"c":19,"r":48},{"c":20,"r":48},{"c":21,"r":48},{"c":22,"r":48},{"c":23,"r":48},{"c":24,"r":48},{"c":25,"r":48},{"c":26,"r":48},{"c":27,"r":48},{"c":28,"r":48},{"c":29,"r":48},{"c":30,"r":48},{"c":31,"r":48},{"c":32,"r":48},{"c":33,"r":48},{"c":34,"r":48},{"c":35,"r":48},{"c":36,"r":48},{"c":37,"r":48},{"c":38,"r":48},{"c":39,"r":48},{"c":40,"r":48},{"c":41,"r":48},{"c":42,"r":48},{"c":43,"r":48},
{"c":0,"r":49},{"c":1,"r":49},{"c":2,"r":49},{"c":3,"r":49},{"c":4,"r":49},{"c":5,"r":49},{"c":6,"r":49},{"c":7,"r":49},{"c":8,"r":49},{"c":9,"r":49},{"c":10,"r":49},{"c":11,"r":49},{"c":12,"r":49},{"c":13,"r":49},{"c":14,"r":49},{"c":15,"r":49},{"c":16,"r":49},{"c":17,"r":49},{"c":18,"r":49},{"c":19,"r":49},{"c":20,"r":49},{"c":21,"r":49},{"c":22,"r":49},{"c":23,"r":49},{"c":24,"r":49},{"c":25,"r":49},{"c":26,"r":49},{"c":27,"r":49},{"c":28,"r":49},{"c":29,"r":49},{"c":30,"r":49},{"c":31,"r":49},{"c":32,"r":49},{"c":33,"r":49},{"c":34,"r":49},{"c":35,"r":49},{"c":36,"r":49},{"c":37,"r":49},{"c":38,"r":49},{"c":39,"r":49},{"c":40,"r":49},{"c":41,"r":49},{"c":42,"r":49},{"c":43,"r":49},
{"c":0,"r":50},{"c":1,"r":50},{"c":2,"r":50},{"c":3,"r":50},{"c":4,"r":50},{"c":5,"r":50},{"c":6,"r":50},{"c":7,"r":50},{"c":8,"r":50},{"c":9,"r":50},{"c":10,"r":50},{"c":11,"r":50},{"c":12,"r":50},{"c":13,"r":50},{"c":14,"r":50},{"c":15,"r":50},{"c":16,"r":50},{"c":17,"r":50},{"c":18,"r":50},{"c":19,"r":50},{"c":20,"r":50},{"c":21,"r":50},{"c":22,"r":50},{"c":23,"r":50},{"c":24,"r":50},{"c":25,"r":50},{"c":26,"r":50},{"c":27,"r":50},{"c":28,"r":50},{"c":29,"r":50},{"c":30,"r":50},{"c":31,"r":50},{"c":32,"r":50},{"c":33,"r":50},{"c":34,"r":50},{"c":35,"r":50},{"c":36,"r":50},{"c":37,"r":50},{"c":38,"r":50},{"c":39,"r":50},{"c":40,"r":50},{"c":41,"r":50},{"c":42,"r":50},{"c":43,"r":50},
{"c":0,"r":51},{"c":1,"r":51},{"c":2,"r":51},{"c":3,"r":51},{"c":4,"r":51},{"c":5,"r":51},{"c":6,"r":51},{"c":7,"r":51},{"c":8,"r":51},{"c":9,"r":51},{"c":10,"r":51},{"c":11,"r":51},{"c":12,"r":51},{"c":13,"r":51},{"c":14,"r":51},{"c":15,"r":51},{"c":16,"r":51},{"c":17,"r":51},{"c":18,"r":51},{"c":19,"r":51},{"c":20,"r":51},{"c":21,"r":51},{"c":22,"r":51},{"c":23,"r":51},{"c":24,"r":51},{"c":25,"r":51},{"c":26,"r":51},{"c":27,"r":51},{"c":28,"r":51},{"c":29,"r":51},{"c":30,"r":51},{"c":31,"r":51},{"c":32,"r":51},{"c":33,"r":51},{"c":34,"r":51},{"c":35,"r":51},{"c":36,"r":51},{"c":37,"r":51},{"c":38,"r":51},{"c":39,"r":51},{"c":40,"r":51},{"c":41,"r":51},{"c":42,"r":51},{"c":43,"r":51},
{"c":0,"r":52},{"c":1,"r":52},{"c":2,"r":52},{"c":3,"r":52},{"c":4,"r":52},{"c":5,"r":52},{"c":6,"r":52},{"c":7,"r":52},{"c":8,"r":52},{"c":9,"r":52},{"c":10,"r":52},{"c":11,"r":52},{"c":12,"r":52},{"c":13,"r":52},{"c":14,"r":52},{"c":15,"r":52},{"c":16,"r":52},{"c":17,"r":52},{"c":18,"r":52},{"c":19,"r":52},{"c":20,"r":52},{"c":21,"r":52},{"c":22,"r":52},{"c":23,"r":52},{"c":24,"r":52},{"c":25,"r":52},{"c":26,"r":52},{"c":27,"r":52},{"c":28,"r":52},{"c":29,"r":52},{"c":30,"r":52},{"c":31,"r":52},{"c":32,"r":52},{"c":33,"r":52},{"c":34,"r":52},{"c":35,"r":52},{"c":36,"r":52},{"c":37,"r":52},{"c":38,"r":52},{"c":39,"r":52},{"c":40,"r":52},{"c":41,"r":52},{"c":42,"r":52},{"c":43,"r":52},
{"c":0,"r":53},{"c":1,"r":53},{"c":2,"r":53},{"c":3,"r":53},{"c":4,"r":53},{"c":5,"r":53},{"c":6,"r":53},{"c":7,"r":53},{"c":8,"r":53},{"c":9,"r":53},{"c":10,"r":53},{"c":11,"r":53},{"c":12,"r":53},{"c":13,"r":53},{"c":14,"r":53},{"c":15,"r":53},{"c":16,"r":53},{"c":17,"r":53},{"c":18,"r":53},{"c":19,"r":53},{"c":20,"r":53},{"c":21,"r":53},{"c":22,"r":53},{"c":23,"r":53},{"c":24,"r":53},{"c":25,"r":53},{"c":26,"r":53},{"c":27,"r":53},{"c":28,"r":53},{"c":29,"r":53},{"c":30,"r":53},{"c":31,"r":53},{"c":32,"r":53},{"c":33,"r":53},{"c":34,"r":53},{"c":35,"r":53},{"c":36,"r":53},{"c":37,"r":53},{"c":38,"r":53},{"c":39,"r":53},{"c":40,"r":53},{"c":41,"r":53},{"c":42,"r":53},{"c":43,"r":53},
{"c":0,"r":54},{"c":1,"r":54},{"c":2,"r":54},{"c":3,"r":54},{"c":4,"r":54},{"c":5,"r":54},{"c":6,"r":54},{"c":7,"r":54},{"c":8,"r":54},{"c":9,"r":54},{"c":10,"r":54},{"c":11,"r":54},{"c":12,"r":54},{"c":13,"r":54},{"c":14,"r":54},{"c":15,"r":54},{"c":16,"r":54},{"c":17,"r":54},{"c":18,"r":54},{"c":19,"r":54},{"c":20,"r":54},{"c":21,"r":54},{"c":22,"r":54},{"c":23,"r":54},{"c":24,"r":54},{"c":25,"r":54},{"c":26,"r":54},{"c":27,"r":54},{"c":28,"r":54},{"c":29,"r":54},{"c":30,"r":54},{"c":31,"r":54},{"c":32,"r":54},{"c":33,"r":54},{"c":34,"r":54},{"c":35,"r":54},{"c":36,"r":54},{"c":37,"r":54},{"c":38,"r":54},{"c":39,"r":54},{"c":40,"r":54},{"c":41,"r":54},{"c":42,"r":54},{"c":43,"r":54},
{"c":0,"r":55},{"c":1,"r":55},{"c":2,"r":55},{"c":3,"r":55},{"c":4,"r":55},{"c":5,"r":55},{"c":6,"r":55},{"c":7,"r":55},{"c":8,"r":55},{"c":9,"r":55},{"c":10,"r":55},{"c":11,"r":55},{"c":12,"r":55},{"c":13,"r":55},{"c":14,"r":55},{"c":15,"r":55},{"c":16,"r":55},{"c":17,"r":55},{"c":18,"r":55},{"c":19,"r":55},{"c":20,"r":55},{"c":21,"r":55},{"c":22,"r":55},{"c":23,"r":55},{"c":24,"r":55},{"c":25,"r":55},{"c":26,"r":55},{"c":27,"r":55},{"c":28,"r":55},{"c":29,"r":55},{"c":30,"r":55},{"c":31,"r":55},{"c":32,"r":55},{"c":33,"r":55},{"c":34,"r":55},{"c":35,"r":55},{"c":36,"r":55},{"c":37,"r":55},{"c":38,"r":55},{"c":39,"r":55},{"c":40,"r":55},{"c":41,"r":55},{"c":42,"r":55},{"c":43,"r":55},
{"c":0,"r":56},{"c":1,"r":56},{"c":2,"r":56},{"c":3,"r":56},{"c":4,"r":56},{"c":5,"r":56},{"c":6,"r":56},{"c":7,"r":56},{"c":8,"r":56},{"c":9,"r":56},{"c":10,"r":56},{"c":11,"r":56},{"c":12,"r":56},{"c":13,"r":56},{"c":14,"r":56},{"c":15,"r":56},{"c":16,"r":56},{"c":17,"r":56},{"c":18,"r":56},{"c":19,"r":56},{"c":20,"r":56},{"c":21,"r":56},{"c":22,"r":56},{"c":23,"r":56},{"c":24,"r":56},{"c":25,"r":56},{"c":26,"r":56},{"c":27,"r":56},{"c":28,"r":56},{"c":29,"r":56},{"c":30,"r":56},{"c":31,"r":56},{"c":32,"r":56},{"c":33,"r":56},{"c":34,"r":56},{"c":35,"r":56},{"c":36,"r":56},{"c":37,"r":56},{"c":38,"r":56},{"c":39,"r":56},{"c":40,"r":56},{"c":41,"r":56},{"c":42,"r":56},{"c":43,"r":56},
{"c":0,"r":57},{"c":1,"r":57},{"c":2,"r":57},{"c":3,"r":57},{"c":4,"r":57},{"c":5,"r":57},{"c":6,"r":57},{"c":7,"r":57},{"c":8,"r":57},{"c":9,"r":57},{"c":10,"r":57},{"c":11,"r":57},{"c":12,"r":57},{"c":13,"r":57},{"c":14,"r":57},{"c":15,"r":57},{"c":16,"r":57},{"c":17,"r":57},{"c":18,"r":57},{"c":19,"r":57},{"c":20,"r":57},{"c":21,"r":57},{"c":22,"r":57},{"c":23,"r":57},{"c":24,"r":57},{"c":25,"r":57},{"c":26,"r":57},{"c":27,"r":57},{"c":28,"r":57},{"c":29,"r":57},{"c":30,"r":57},{"c":31,"r":57},{"c":32,"r":57},{"c":33,"r":57},{"c":34,"r":57},{"c":35,"r":57},{"c":36,"r":57},{"c":37,"r":57},{"c":38,"r":57},{"c":39,"r":57},{"c":40,"r":57},{"c":41,"r":57},{"c":42,"r":57},{"c":43,"r":57},
{"c":0,"r":58},{"c":1,"r":58},{"c":2,"r":58},{"c":3,"r":58},{"c":4,"r":58},{"c":5,"r":58},{"c":6,"r":58},{"c":7,"r":58},{"c":8,"r":58},{"c":9,"r":58},{"c":10,"r":58},{"c":11,"r":58},{"c":12,"r":58},{"c":13,"r":58},{"c":14,"r":58},{"c":15,"r":58},{"c":16,"r":58},{"c":17,"r":58},{"c":18,"r":58},{"c":19,"r":58},{"c":20,"r":58},{"c":21,"r":58},{"c":22,"r":58},{"c":23,"r":58},{"c":24,"r":58},{"c":25,"r":58},{"c":26,"r":58},{"c":27,"r":58},{"c":28,"r":58},{"c":29,"r":58},{"c":30,"r":58},{"c":31,"r":58},{"c":32,"r":58},{"c":33,"r":58},{"c":34,"r":58},{"c":35,"r":58},{"c":36,"r":58},{"c":37,"r":58},{"c":38,"r":58},{"c":39,"r":58},{"c":40,"r":58},{"c":41,"r":58},{"c":42,"r":58},{"c":43,"r":58}
]
},
"layer": [
{"data": {"name": "card"}, "mark": {"type": "rect", "cornerRadius": 30, "fill": "transparent", "stroke": "#f39530", "strokeWidth": 1.8},
 "encoding": {
  "x": {"field": "x1", "type": "quantitative", "axis": null, "scale": {"domain": [-4.677, 46.153], "nice": false, "zero": false}},
  "x2": {"field": "x2"},
  "y": {"field": "y1", "type": "quantitative", "axis": null, "scale": {"domain": [-7.077, 68.487], "reverse": true, "nice": false, "zero": false}},
  "y2": {"field": "y2"}}},
{"data": {"name": "dots"}, "mark": {"type": "point", "filled": true, "shape": "circle", "size": 53, "color": "#e9e8f3", "opacity": 1},
 "encoding": {
  "x": {"field": "c", "type": "quantitative", "axis": null, "scale": {"domain": [-4.677, 46.153], "nice": false, "zero": false}},
  "y": {"field": "r", "type": "quantitative", "axis": null, "scale": {"domain": [-7.077, 68.487], "reverse": true, "nice": false, "zero": false}}}},
{"data": {"name": "pill"}, "mark": {"type": "rect", "cornerRadius": 22, "fill": "white", "stroke": "#f39530", "strokeWidth": 1.8},
 "encoding": {
  "x": {"field": "x1", "type": "quantitative", "axis": null, "scale": {"domain": [-4.677, 46.153], "nice": false, "zero": false}},
  "x2": {"field": "x2"},
  "y": {"field": "y1", "type": "quantitative", "axis": null, "scale": {"domain": [-7.077, 68.487], "reverse": true, "nice": false, "zero": false}},
  "y2": {"field": "y2"}}},
{"data": {"name": "title"}, "mark": {"type": "text", "align": "left", "baseline": "alphabetic", "font": "Lato", "fontWeight": "bold", "fontSize": 16, "color": "#4a479f"},
 "encoding": {
  "x": {"field": "x", "type": "quantitative", "axis": null, "scale": {"domain": [-4.677, 46.153], "nice": false, "zero": false}},
  "y": {"field": "y", "type": "quantitative", "axis": null, "scale": {"domain": [-7.077, 68.487], "reverse": true, "nice": false, "zero": false}},
  "text": {"field": "label"}}},
{"data": {"name": "corner1"}, "mark": {"type": "text", "align": "right", "baseline": "alphabetic", "font": "Lato", "fontSize": 9, "color": "#4a479f"},
 "encoding": {
  "x": {"field": "x", "type": "quantitative", "axis": null, "scale": {"domain": [-4.677, 46.153], "nice": false, "zero": false}},
  "y": {"field": "y", "type": "quantitative", "axis": null, "scale": {"domain": [-7.077, 68.487], "reverse": true, "nice": false, "zero": false}},
  "text": {"field": "label"}}},
{"data": {"name": "corner2"}, "mark": {"type": "text", "align": "right", "baseline": "alphabetic", "font": "Lato", "fontSize": 9, "color": "#f39530"},
 "encoding": {
  "x": {"field": "x", "type": "quantitative", "axis": null, "scale": {"domain": [-4.677, 46.153], "nice": false, "zero": false}},
  "y": {"field": "y", "type": "quantitative", "axis": null, "scale": {"domain": [-7.077, 68.487], "reverse": true, "nice": false, "zero": false}},
  "text": {"field": "label"}}}
]
}
